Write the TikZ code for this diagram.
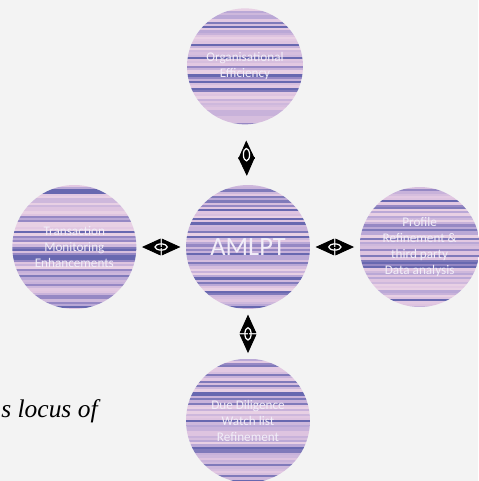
\documentclass[tikz,border=0pt]{standalone}
\usepackage{fontspec}
\setmainfont{Carlito}
\newfontfamily\bookfont{Liberation Serif}
\usetikzlibrary{positioning, shapes.geometric, arrows.meta}

% stripe colours of the orbs
\definecolor{paper}{RGB}{243,243,243}
\definecolor{orb0}{RGB}{222,196,224}
\definecolor{orb1}{RGB}{186,168,214}
\definecolor{orb2}{RGB}{104,104,176}
\definecolor{orb3}{RGB}{232,208,228}
\definecolor{orb4}{RGB}{150,136,196}
\definecolor{orb5}{RGB}{206,184,220}
\definecolor{orb6}{RGB}{128,122,186}
\definecolor{orb7}{RGB}{226,200,226}
\definecolor{orb8}{RGB}{200,178,218}
\definecolor{orb9}{RGB}{214,190,222}
\definecolor{orbtext}{RGB}{242,238,248}

\tikzset{
    orb/.style={circle, minimum size=2.48cm, inner sep=0pt, align=center,
        text=orbtext, font=\fontsize{7.5}{9}\selectfont,
        path picture={
            \pgfmathsetseed{#1}
            \foreach \k in {0,...,60}{
                \pgfmathtruncatemacro\tone{random(0,9)}
                \fill[orb\tone] (path picture bounding box.north west) ++(0,\k*2.2) rectangle ++(130,2.2);
            }
        }},
    orb/.default=11,
    hub/.style={orb=5, font=\fontsize{15}{17}\selectfont},
    link/.style={line width=0.5pt, {Triangle[length=10.6pt, width=9.5pt]}-{Triangle[length=10.6pt, width=9.5pt]},
        shorten <=3pt, shorten >=3pt},
    slit/.style={ellipse, draw=white, line width=0.7pt, minimum width=7pt, minimum height=3.5pt, inner sep=0pt}
}

\begin{document}
\begin{tikzpicture}[x=0.02cm, y=-0.02cm, node distance=0.98cm]
    % paper and frame
    \fill[paper] (0,0) rectangle (478,481);
    \useasboundingbox (0,0) rectangle (478,481);

    % the five orbs
    \node[hub] (amlpt) at (248,247) {AMLPT};
    \node[orb=3, minimum size=2.32cm, above=1.2cm of amlpt, xshift=-3*0.02cm] (effic) {Organisational\\Efficiency};
    \node[orb=17, left=of amlpt] (monit) {Transaction\\Monitoring\\Enhancements};
    \node[orb=29, minimum size=2.4cm, right=of amlpt] (profile) {Profile\\Refinement \&\\third party\\Data analysis};
    \node[orb=41, below=of amlpt] (watch) {Due Diligence\\Watch list\\Refinement};

    % double arrows
    \draw[link, shorten <=9pt, shorten >=5pt] (effic) -- node[slit, sloped] {} (amlpt);
    \draw[link] (monit) -- node[slit, sloped] {} (amlpt);
    \draw[link] (amlpt) -- node[slit, sloped] {} (profile);
    \draw[link] (amlpt) -- node[slit, sloped] {} (watch);

    % text cut off at the left
    \node[anchor=base west, inner sep=0pt, font=\bookfont\itshape\fontsize{14.5}{17}\selectfont] (locus) at (1,417) {s locus of};
\end{tikzpicture}
\end{document}
